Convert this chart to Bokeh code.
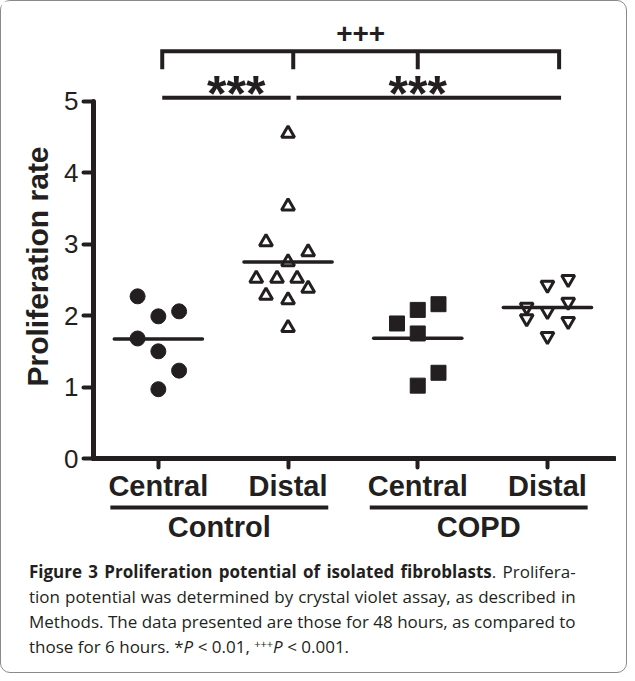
import numpy as np
from bokeh.plotting import figure
from bokeh.models import FixedTicker, Range1d, Div, Title
from bokeh.layouts import column
from bokeh.embed import file_html
from bokeh.resources import INLINE
from bokeh.core.properties import value

# ---------------- data ----------------
groups = ["Control", "COPD"]
sites = ["Central", "Distal", "Central", "Distal"]
positions = [1, 2, 3, 4]

control_central = [2.27, 1.99, 2.06, 1.68, 1.50, 1.23, 0.97]
control_central_jitter = [-0.16, 0.0, 0.16, -0.16, 0.0, 0.16, 0.0]
control_distal = [4.55, 3.53, 3.03, 2.89, 2.75, 2.52, 2.52, 2.52, 2.38, 2.28, 2.22, 1.83]
control_distal_jitter = [0.0, 0.0, -0.17, 0.155, 0.0, -0.245, -0.085, 0.07, 0.155, -0.17, 0.0, 0.0]
copd_central = [1.89, 2.08, 2.16, 1.75, 1.20, 1.02]
copd_central_jitter = [-0.16, 0.0, 0.16, 0.0, 0.16, 0.0]
copd_distal = [2.51, 2.43, 2.19, 2.12, 2.06, 1.96, 1.92, 1.71]
copd_distal_jitter = [0.16, 0.0, 0.16, -0.16, 0.0, -0.16, 0.16, 0.0]

y_ticks = [0, 1, 2, 3, 4, 5]
y_title = "Proliferation rate"
sig_within = "***"
sig_between = "+++"

caption_bold = "Figure 3 Proliferation potential of isolated fibroblasts"
caption_lines = [
    ". Prolifera-",
    "tion potential was determined by crystal violet assay, as described in",
    "Methods. The data presented are those for 48 hours, as compared to",
]

# ---------------- styling ----------------
INK = "#231f20"
FONT = "Liberation Sans"
W = 615
ML = 92          # left border of the plot frames
MR = 2           # right border of the plot frames

p = figure(width=W, height=503, output_backend="svg", toolbar_location=None,
           x_range=Range1d(0.5, 4.517), y_range=Range1d(0, 6.215))
p.min_border_left = ML
p.min_border_right = MR
p.min_border_top = 13
p.min_border_bottom = 45
p.outline_line_color = None
p.xgrid.visible = False
p.ygrid.visible = False
p.background_fill_color = "white"
p.border_fill_color = "white"

# y axis
ya = p.yaxis[0]
ya.ticker = FixedTicker(ticks=y_ticks)
ya.bounds = (0, 5)
ya.axis_line_width = 5
ya.axis_line_color = INK
ya.axis_line_cap = "round"
ya.major_tick_line_width = 4
ya.major_tick_line_color = INK
ya.major_tick_line_cap = "round"
ya.major_tick_out = 10
ya.major_tick_in = 0
ya.minor_tick_line_color = None
ya.major_label_text_font = FONT
ya.major_label_text_font_size = "26px"
ya.major_label_text_color = INK
ya.major_label_standoff = 5

# y title (to the left of the axis, offset along the axis)
p.add_layout(Title(text=y_title, align="left", offset=72, standoff=16,
                   text_font=FONT, text_font_size="30px", text_font_style="bold",
                   text_color=INK), "left")

# x axis
xa = p.xaxis[0]
xa.ticker = FixedTicker(ticks=positions)
xa.major_label_overrides = {pos: s for pos, s in zip(positions, sites)}
xa.axis_line_width = 5
xa.axis_line_color = INK
xa.axis_line_cap = "round"
xa.major_tick_line_width = 4
xa.major_tick_line_color = INK
xa.major_tick_line_cap = "round"
xa.major_tick_out = 9
xa.major_tick_in = 0
xa.minor_tick_line_color = None
xa.major_label_text_font = FONT
xa.major_label_text_font_size = "29px"
xa.major_label_text_font_style = "bold"
xa.major_label_text_color = INK
xa.major_label_standoff = 2

# ---------------- points ----------------
series = [
    (control_central, control_central_jitter, positions[0], "circle", INK, 15, 1),
    (control_distal, control_distal_jitter, positions[1], "triangle", "white", 13, 3),
    (copd_central, copd_central_jitter, positions[2], "square", INK, 15, 1),
    (copd_distal, copd_distal_jitter, positions[3], "inverted_triangle", "white", 13, 3),
]
for vals, jit, pos, marker, fill, size, lw in series:
    xs = [pos + j for j in jit]
    p.scatter(xs, vals, marker=marker, size=size, fill_color=fill,
              line_color=INK, line_width=lw)

# mean lines
means = [float(np.mean(s[0])) for s in series]
half = 0.34
p.segment(x0=[x - half for x in positions], x1=[x + half for x in positions],
          y0=means, y1=means, line_width=3.5, line_color=INK, line_cap="round")

# ---------------- significance brackets ----------------
low_y = 5.05
top_y = 5.70
leg_y = 5.45
p.segment(x0=[positions[0] + 0.03, positions[1] + 0.065],
          x1=[positions[1] + 0.02, positions[3] + 0.105],
          y0=[low_y, low_y], y1=[low_y, low_y], line_width=4, line_color=INK)
p.text(x=[(positions[0] + positions[1]) / 2 + 0.1, positions[2]],
       y=[low_y + 0.05, low_y + 0.05], text=[sig_within, sig_within],
       text_align="center", text_baseline="alphabetic",
       text_font=value(FONT), text_font_style="bold", text_font_size="50px",
       text_color=INK)
bl = positions[0] + 0.03
br = positions[3] + 0.09
p.multi_line(xs=[[bl, bl, br, br], [positions[1] + 0.04, positions[1] + 0.04],
                 [positions[2], positions[2]]],
             ys=[[leg_y, top_y, top_y, leg_y], [top_y, leg_y], [top_y, leg_y]],
             line_width=4, line_color=INK, line_join="miter")
p.text(x=[(bl + br) / 2], y=[top_y + 0.245], text=[sig_between],
       text_align="center", text_baseline="alphabetic",
       text_font=value(FONT), text_font_style="bold", text_font_size="28px",
       text_color=INK)

# ---------------- group underlines and group labels ----------------
p2 = figure(width=W, height=50, output_backend="svg", toolbar_location=None,
            x_range=p.x_range, y_range=Range1d(0, 1), y_axis_location=None)
p2.min_border_left = ML
p2.min_border_right = MR
p2.min_border_top = 0
p2.min_border_bottom = 44
p2.outline_line_color = None
p2.xgrid.visible = False
p2.ygrid.visible = False

g_x0 = [positions[2 * gi] - 0.37 for gi in range(len(groups))]
g_x1 = [positions[2 * gi + 1] + 0.31 for gi in range(len(groups))]
g_mid = [round((a + b) / 2, 3) for a, b in zip(g_x0, g_x1)]
p2.segment(x0=g_x0, x1=g_x1, y0=[0.5] * len(groups), y1=[0.5] * len(groups),
           line_width=4, line_color=INK)
xa2 = p2.xaxis[0]
xa2.ticker = FixedTicker(ticks=g_mid)
xa2.major_label_overrides = {m: g for m, g in zip(g_mid, groups)}
xa2.axis_line_color = None
xa2.major_tick_line_color = None
xa2.minor_tick_line_color = None
xa2.major_tick_out = 0
xa2.major_tick_in = 0
xa2.major_label_standoff = 0
xa2.major_label_text_font = FONT
xa2.major_label_text_font_size = "29px"
xa2.major_label_text_font_style = "bold"
xa2.major_label_text_color = INK

# ---------------- caption ----------------
just = "text-align:justify;text-align-last:justify;"
html = (
    "<div style=\"font-family:'Open Sans',sans-serif;font-size:17px;line-height:25px;"
    "color:#231f20;padding:0 15px 0 23px;\">"
    f"<div style='{just}'><b>{caption_bold}</b>{caption_lines[0]}</div>"
    f"<div style='{just}'>{caption_lines[1]}</div>"
    f"<div style='{just}'>{caption_lines[2]}</div>"
    "<div>those for 6 hours. *<i>P</i> &lt; 0.01, "
    "<span style='font-size:11px;vertical-align:5px;line-height:0;'>+++</span>"
    "<i>P</i> &lt; 0.001.</div>"
    "</div>"
)
cap = Div(text=html, width=W, height=108)

layout = column(p, p2, cap,
                styles={"border": "1px solid #8a8a8a", "border-radius": "10px",
                        "background": "white"})

open("out.html", "w").write(file_html(layout, INLINE))
